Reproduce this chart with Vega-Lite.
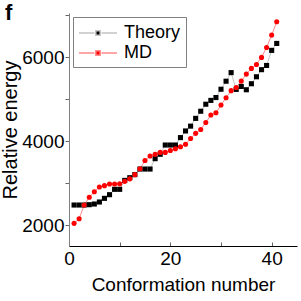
{
  "$schema": "https://vega.github.io/schema/vega-lite/v6.json",
  "width": 228,
  "height": 233,
  "autosize": {"type": "none"},
  "padding": {"left": 69, "top": 13, "right": 4, "bottom": 55},
  "background": "white",
  "title": {"text": "f", "anchor": "start", "frame": "group", "orient": "top", "dx": -64, "offset": -34, "fontSize": 22, "fontWeight": "bold", "font": "Liberation Sans", "color": "black", "baseline": "bottom"},
  "config": {
    "view": {"stroke": null},
    "font": "Liberation Sans",
    "axis": {"grid": false, "domainColor": "black", "tickColor": "#666", "labelColor": "black", "titleColor": "black", "labelFont": "Liberation Sans", "titleFont": "Liberation Sans", "titleFontWeight": "normal"}
  },
  "data": {"values": [
    {"n":1,"series":"Theory","energy":2476},{"n":2,"series":"Theory","energy":2476},{"n":3,"series":"Theory","energy":2476},{"n":4,"series":"Theory","energy":2484},{"n":5,"series":"Theory","energy":2500},{"n":6,"series":"Theory","energy":2548},{"n":7,"series":"Theory","energy":2635},{"n":8,"series":"Theory","energy":2722},{"n":9,"series":"Theory","energy":2850},{"n":10,"series":"Theory","energy":2850},
    {"n":11,"series":"Theory","energy":3063},{"n":12,"series":"Theory","energy":3127},{"n":13,"series":"Theory","energy":3200},{"n":14,"series":"Theory","energy":3333},{"n":15,"series":"Theory","energy":3333},{"n":16,"series":"Theory","energy":3333},{"n":17,"series":"Theory","energy":3580},{"n":18,"series":"Theory","energy":3685},{"n":19,"series":"Theory","energy":3905},{"n":20,"series":"Theory","energy":3905},
    {"n":21,"series":"Theory","energy":3905},{"n":22,"series":"Theory","energy":4082},{"n":23,"series":"Theory","energy":4240},{"n":24,"series":"Theory","energy":4355},{"n":25,"series":"Theory","energy":4540},{"n":26,"series":"Theory","energy":4710},{"n":27,"series":"Theory","energy":4877},{"n":28,"series":"Theory","energy":4968},{"n":29,"series":"Theory","energy":5036},{"n":30,"series":"Theory","energy":5234},
    {"n":31,"series":"Theory","energy":5425},{"n":32,"series":"Theory","energy":5630},{"n":33,"series":"Theory","energy":5230},{"n":34,"series":"Theory","energy":5300},{"n":35,"series":"Theory","energy":5222},{"n":36,"series":"Theory","energy":5365},{"n":37,"series":"Theory","energy":5531},{"n":38,"series":"Theory","energy":5700},{"n":39,"series":"Theory","energy":5800},{"n":40,"series":"Theory","energy":6160},{"n":41,"series":"Theory","energy":6325},
    {"n":1,"series":"MD","energy":2040},{"n":2,"series":"MD","energy":2150},{"n":3,"series":"MD","energy":2476},{"n":4,"series":"MD","energy":2660},{"n":5,"series":"MD","energy":2794},{"n":6,"series":"MD","energy":2905},{"n":7,"series":"MD","energy":2937},{"n":8,"series":"MD","energy":2976},{"n":9,"series":"MD","energy":2976},{"n":10,"series":"MD","energy":2984},
    {"n":11,"series":"MD","energy":3040},{"n":12,"series":"MD","energy":3100},{"n":13,"series":"MD","energy":3200},{"n":14,"series":"MD","energy":3340},{"n":15,"series":"MD","energy":3535},{"n":16,"series":"MD","energy":3645},{"n":17,"series":"MD","energy":3685},{"n":18,"series":"MD","energy":3730},{"n":19,"series":"MD","energy":3730},{"n":20,"series":"MD","energy":3775},
    {"n":21,"series":"MD","energy":3815},{"n":22,"series":"MD","energy":3865},{"n":23,"series":"MD","energy":3925},{"n":24,"series":"MD","energy":4060},{"n":25,"series":"MD","energy":4183},{"n":26,"series":"MD","energy":4275},{"n":27,"series":"MD","energy":4440},{"n":28,"series":"MD","energy":4619},{"n":29,"series":"MD","energy":4674},{"n":30,"series":"MD","energy":4857},
    {"n":31,"series":"MD","energy":5032},{"n":32,"series":"MD","energy":5200},{"n":33,"series":"MD","energy":5275},{"n":34,"series":"MD","energy":5428},{"n":35,"series":"MD","energy":5595},{"n":36,"series":"MD","energy":5730},{"n":37,"series":"MD","energy":5825},{"n":38,"series":"MD","energy":5992},{"n":39,"series":"MD","energy":6230},{"n":40,"series":"MD","energy":6524},{"n":41,"series":"MD","energy":6840}
  ]},
  "encoding": {
    "x": {"field": "n", "type": "quantitative", "scale": {"domain": [0, 45], "nice": false, "zero": false},
      "axis": {"values": [0, 10, 20, 30, 40], "labelExpr": "datum.value % 20 === 0 ? datum.label : ''", "title": "Conformation number", "tickSize": -4, "labelPadding": 7, "labelFontSize": 19, "titleFontSize": 19, "titlePadding": 7, "labelFlush": false}},
    "y": {"field": "energy", "type": "quantitative", "scale": {"domain": [1500, 7050], "nice": false, "zero": false},
      "axis": {"values": [2000, 3000, 4000, 5000, 6000, 7000], "labelExpr": "datum.value % 2000 === 0 ? replace(datum.label, ',', '') : ''", "title": "Relative energy", "domainColor": "#808080", "tickSize": 4, "labelPadding": 1, "labelFontSize": 19, "titleFontSize": 20, "titlePadding": 1, "labelFlush": false}}
  },
  "layer": [
    {
      "mark": {"type": "line", "strokeWidth": 1},
      "encoding": {
        "color": {"field": "series", "type": "nominal", "scale": {"domain": ["Theory", "MD"], "range": ["#c4c4c4", "#ff8a8a"]}, "legend": null},
        "detail": {"field": "series"}
      }
    },
    {
      "mark": {"type": "point", "filled": true, "opacity": 1, "size": 26},
      "encoding": {
        "color": {"field": "series", "type": "nominal", "scale": {"domain": ["Theory", "MD"], "range": ["#000000", "#ff0000"]}, "legend": null},
        "shape": {"field": "series", "type": "nominal", "scale": {"domain": ["Theory", "MD"], "range": ["square", "circle"]}, "legend": null}
      }
    },
    {
      "transform": [{"filter": "datum.n < 0"}],
      "mark": {"type": "point", "filled": true, "opacity": 1, "strokeWidth": 1},
      "encoding": {
        "fill": {"field": "series", "type": "nominal", "scale": {"domain": ["Theory", "MD"], "range": ["#000000", "#ff0000"]},
          "legend": {"title": null, "orient": "top-left", "offset": 4, "padding": 5, "strokeColor": "#808080", "fillColor": "white", "labelFontSize": 18, "labelColor": "black", "symbolSize": 400, "symbolType": "M-1.9,0H-0.35M0.35,0H1.9M-0.22,-0.22H0.22V0.22H-0.22Z", "symbolOffset": 9, "labelOffset": 15, "rowPadding": 0}},
        "stroke": {"field": "series", "type": "nominal", "scale": {"domain": ["Theory", "MD"], "range": ["#c4c4c4", "#ff8a8a"]}}
      }
    }
  ],
  "resolve": {"scale": {"color": "independent", "shape": "independent"}}
}
